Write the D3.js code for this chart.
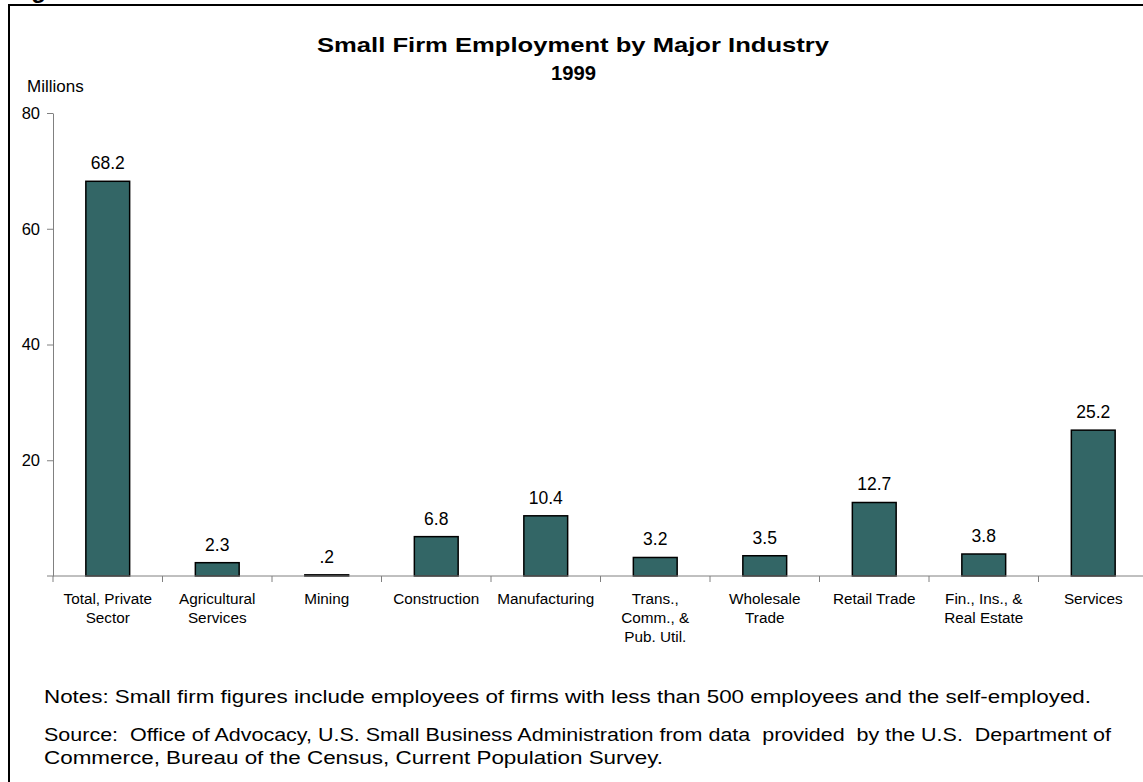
<!DOCTYPE html>
<html>
<head>
<meta charset="utf-8">
<script src="https://cdn.jsdelivr.net/npm/d3@7"></script>
<style>
  body { margin: 0; background: #fff; }
  text { font-family: "Liberation Sans", Arial, sans-serif; fill: #000; }
</style>
</head>
<body>
<svg id="svg1" width="1143" height="782"></svg>
<script>
var categories = [
  ["Total, Private", "Sector"],
  ["Agricultural", "Services"],
  ["Mining"],
  ["Construction"],
  ["Manufacturing"],
  ["Trans.,", "Comm., &", "Pub. Util."],
  ["Wholesale", "Trade"],
  ["Retail Trade"],
  ["Fin., Ins., &", "Real Estate"],
  ["Services"]
];
var values = [68.2, 2.3, 0.2, 6.8, 10.4, 3.2, 3.5, 12.7, 3.8, 25.2];
var yTicks = [20, 40, 60, 80];

var svg = d3.select("#svg1");
    width = +svg.attr("width");
    height = +svg.attr("height");

// frame, clipped at right and bottom like the scan
svg.append("text")
    .attr("x", 10).attr("y", -2)
    .style("font-size", "24px").style("font-weight", "bold")
    .text("Figure");
svg.append("path")
    .attr("d", "M9,782V5H1143")
    .attr("fill", "none").attr("stroke", "#000").attr("stroke-width", 2);

var x = d3.scaleBand()
    .domain(d3.range(values.length))
    .range([53, 1148])
    .paddingInner(0.6)
    .paddingOuter(0.3);

var y = d3.scaleLinear()
    .domain([0, 80])
    .range([576, 113]);

// title (glyphs stretched a bit, like the scan)
svg.append("text")
    .attr("x", 317).attr("y", 52)
    .attr("textLength", 512).attr("lengthAdjust", "spacingAndGlyphs")
    .style("font-size", "21px").style("font-weight", "bold")
    .text("Small Firm Employment by Major Industry");
svg.append("text")
    .attr("x", 551).attr("y", 80)
    .attr("textLength", 45).attr("lengthAdjust", "spacingAndGlyphs")
    .style("font-size", "21px").style("font-weight", "bold")
    .text("1999");

svg.append("text")
    .attr("x", 27).attr("y", 92)
    .style("font-size", "17px")
    .text("Millions");

// y axis
var yAxis = svg.append("g")
    .attr("transform", "translate(53,0)")
    .call(d3.axisLeft(y).tickValues(yTicks).tickSize(6).tickSizeOuter(0).tickPadding(7));
yAxis.select(".domain").attr("stroke", "#808080");
yAxis.selectAll(".tick line").attr("stroke", "#808080");
yAxis.selectAll(".tick text")
    .style("font-size", "16.5px")
    .attr("font-family", null);

// bars
svg.selectAll("rect.bar")
    .data(values)
  .enter().append("rect")
    .attr("class", "bar")
    .attr("x", function(d, i) { return x(i); })
    .attr("y", function(d) { return y(d); })
    .attr("width", x.bandwidth())
    .attr("height", function(d) { return y(0) - y(d); })
    .attr("fill", "#336666")
    .attr("stroke", "#000")
    .attr("stroke-width", 1.5);

// x axis baseline + category ticks
svg.append("line")
    .attr("x1", 47).attr("x2", 1143)
    .attr("y1", y(0)).attr("y2", y(0))
    .attr("stroke", "#808080");
var step = x.step();
svg.selectAll("line.ctick")
    .data(d3.range(values.length + 1))
  .enter().append("line")
    .attr("class", "ctick")
    .attr("x1", function(i) { return 53 + i * step; })
    .attr("x2", function(i) { return 53 + i * step; })
    .attr("y1", y(0)).attr("y2", y(0) + 6)
    .attr("stroke", "#808080");

// value labels
function fmt(v) {
  var s = v.toFixed(1);
  return v < 1 ? s.replace(/^0/, "") : s;
}
svg.selectAll("text.val")
    .data(values)
  .enter().append("text")
    .attr("class", "val")
    .attr("x", function(d, i) { return x(i) + x.bandwidth() / 2; })
    .attr("y", function(d) { return y(d) - 12; })
    .attr("text-anchor", "middle")
    .style("font-size", "17.5px")
    .text(fmt);

// category labels
var cat = svg.selectAll("text.cat")
    .data(categories)
  .enter().append("text")
    .attr("class", "cat")
    .attr("text-anchor", "middle")
    .style("font-size", "15.3px");
cat.selectAll("tspan")
    .data(function(d, i) { return d.map(function(t) { return {t: t, i: i}; }); })
  .enter().append("tspan")
    .attr("x", function(d) { return x(d.i) + x.bandwidth() / 2; })
    .attr("y", function(d, j) { return 604 + j * 19; })
    .text(function(d) { return d.t; });

// notes
var notes = [
  {t: "Notes: Small firm figures include employees of firms with less than 500 employees and the self-employed.", y: 703, w: 1047},
  {t: "Source:  Office of Advocacy, U.S. Small Business Administration from data  provided  by the U.S.  Department of", y: 741, w: 1067},
  {t: "Commerce, Bureau of the Census, Current Population Survey.", y: 764, w: 619}
];
svg.selectAll("text.note")
    .data(notes)
  .enter().append("text")
    .attr("class", "note")
    .attr("x", 44)
    .attr("y", function(d) { return d.y; })
    .attr("textLength", function(d) { return d.w; })
    .attr("lengthAdjust", "spacingAndGlyphs")
    .style("white-space", "pre")
    .style("font-size", "17.5px")
    .text(function(d) { return d.t; });
</script>
</body>
</html>
